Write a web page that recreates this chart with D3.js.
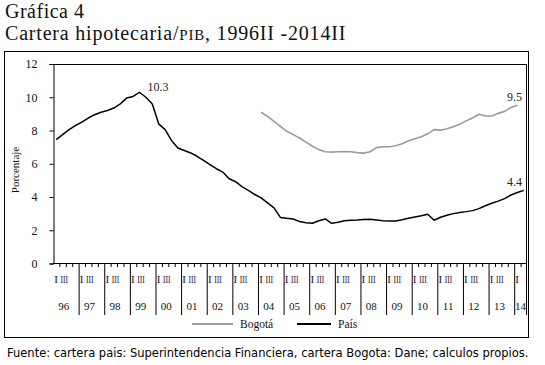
<!DOCTYPE html>
<html>
<head>
<meta charset="utf-8">
<script src="https://cdn.jsdelivr.net/npm/d3@7/dist/d3.min.js"></script>
<style>
  body { margin: 0; background: #fff; }
  svg { display: block; }
</style>
</head>
<body>
<svg id="chart" width="545" height="365"></svg>
<script>
// ---- Data ----
const years = ["96","97","98","99","00","01","02","03","04","05","06","07","08","09","10","11","12","13","14"];
const quarters = ["I","II","III","IV"];
// quarterly series, 1996 I .. 2014 II (74 quarters)
const pais = [
  7.45, 7.75, 8.05, 8.30, 8.50, 8.75, 8.95, 9.10,   // 96-97
  9.20, 9.35, 9.60, 9.95, 10.05, 10.30, 10.00, 9.60, // 98-99
  8.40, 8.05, 7.40, 6.95, 6.80, 6.65, 6.45, 6.20,    // 00-01
  5.95, 5.70, 5.50, 5.10, 4.92, 4.62, 4.40, 4.15,    // 02-03
  3.95, 3.65, 3.35, 2.77, 2.72, 2.68, 2.52, 2.45,    // 04-05
  2.42, 2.57, 2.68, 2.42, 2.48, 2.57, 2.60, 2.62,    // 06-07
  2.65, 2.66, 2.62, 2.57, 2.55, 2.55, 2.63, 2.72,    // 08-09
  2.80, 2.87, 2.96, 2.60, 2.78, 2.90, 3.00, 3.07,    // 10-11
  3.12, 3.18, 3.30, 3.47, 3.62, 3.75, 3.90, 4.12,    // 12-13
  4.27, 4.40                                         // 14
];
const bogota = [
  null, null, null, null, null, null, null, null,
  null, null, null, null, null, null, null, null,
  null, null, null, null, null, null, null, null,
  null, null, null, null, null, null, null, null,
  9.10, 8.85, 8.55, 8.25, 7.95, 7.75, 7.55, 7.30,
  7.05, 6.85, 6.72, 6.70, 6.72, 6.74, 6.72, 6.67,
  6.64, 6.72, 6.97, 7.02, 7.02, 7.08, 7.20, 7.38,
  7.50, 7.62, 7.80, 8.05, 8.02, 8.10, 8.22, 8.37,
  8.58, 8.75, 8.98, 8.87, 8.87, 9.03, 9.15, 9.38,
  9.52, null
];
const yTicks = [0, 2, 4, 6, 8, 10, 12];
const seriesNames = ["Bogotá", "País"];
const annotations = [
  { series: "pais", index: 13, text: "10.3" },
  { series: "bogota", index: 72, text: "9.5" },
  { series: "pais", index: 73, text: "4.4" }
];

// quarter keys
const qKeys = [];
years.forEach((y, yi) => {
  quarters.forEach((q, qi) => {
    if (qKeys.length < pais.length) qKeys.push(y + "-" + q);
  });
});

// ---- Layout ----
const svg = d3.select("#chart");
const plot = { left: 53, right: 527, top: 64, bottom: 263.5 };
const serif = "'Liberation Serif', 'Times New Roman', serif";

const x = d3.scaleBand().domain(qKeys).range([plot.left, plot.right]).padding(0);
const y = d3.scaleLinear().domain([0, 12]).range([plot.bottom, plot.top]);
const xc = i => x(qKeys[i]) + x.bandwidth() / 2;

// Frame
svg.append("rect").attr("x", 4.5).attr("y", 51.5).attr("width", 524).attr("height", 286)
  .attr("fill", "none").attr("stroke", "#000").attr("stroke-width", 1);

// Titles
svg.append("text").attr("x", 5).attr("y", 17.5).attr("font-family", serif)
  .attr("font-size", 20).attr("letter-spacing", 0.5).attr("fill", "#111").text("Gráfica 4");
const t2 = svg.append("text").attr("x", 5).attr("y", 40).attr("font-family", serif)
  .attr("font-size", 20).attr("letter-spacing", 0.8).attr("fill", "#111");
t2.append("tspan").text("Cartera hipotecaria/");
t2.append("tspan").attr("font-size", 15).text("PIB");
t2.append("tspan").text(", 1996II -2014II");

// Plot border (top and right)
svg.append("line").attr("x1", plot.left).attr("x2", plot.right).attr("y1", plot.top + 0.5).attr("y2", plot.top + 0.5)
  .attr("stroke", "#000");
svg.append("line").attr("x1", plot.right - 0.5).attr("x2", plot.right - 0.5).attr("y1", plot.top).attr("y2", 315)
  .attr("stroke", "#000");

// Y axis
const yAxis = d3.axisLeft(y).tickValues(yTicks).tickSize(4).tickPadding(12).tickFormat(d3.format("d"));
const gy = svg.append("g").attr("transform", `translate(${plot.left + 0.5},0)`).call(yAxis);
gy.attr("font-family", serif);
gy.select(".domain").attr("stroke", "#000");
gy.selectAll("line").attr("stroke", "#000");
gy.selectAll("text").attr("font-family", serif).attr("font-size", 12).attr("fill", "#111");

svg.append("text").attr("transform", `translate(19,170) rotate(-90)`).attr("text-anchor", "middle")
  .attr("font-family", serif).attr("font-size", 11).attr("fill", "#111").text("Porcentaje");

// X axis: minor quarter ticks
const gx = svg.append("g");
gx.append("line").attr("x1", plot.left).attr("x2", plot.right).attr("y1", plot.bottom).attr("y2", plot.bottom)
  .attr("stroke", "#000");
qKeys.forEach((k, i) => {
  if (i > 0) {
    const isYear = i % 4 === 0;
    gx.append("line").attr("x1", x(k) + 0.5).attr("x2", x(k) + 0.5)
      .attr("y1", plot.bottom).attr("y2", isYear ? 315 : plot.bottom + 3.5)
      .attr("stroke", "#000").attr("stroke-width", 1);
  }
});
// year and quarter labels
years.forEach((yr, yi) => {
  const startKey = yr + "-I";
  const x0 = x(startKey);
  const nQ = qKeys.filter(k => k.startsWith(yr + "-")).length;
  const x1 = x0 + nQ * x.bandwidth();
  gx.append("text").attr("x", x0 + 3).attr("y", 283).attr("text-anchor", "middle")
    .attr("font-family", serif).attr("font-size", 11).attr("fill", "#1a1030").text(quarters[0]);
  if (nQ >= 3) {
    gx.append("text").attr("x", x0 + 7.5).attr("y", 283)
      .attr("textLength", 7.5).attr("lengthAdjust", "spacingAndGlyphs")
      .attr("font-family", serif).attr("font-size", 11).attr("fill", "#1a1030").text(quarters[2]);
  }
  gx.append("text").attr("x", (x0 + x1) / 2 - (nQ === 4 ? 2 : 0)).attr("y", 310).attr("text-anchor", "middle")
    .attr("font-family", serif).attr("font-size", 11).attr("fill", "#111").text(yr);
});

// Lines
const line = d3.line().defined(d => d.v !== null).x(d => xc(d.i)).y(d => y(d.v));
const paisPts = pais.map((v, i) => ({ i, v }));
const bogPts = bogota.map((v, i) => ({ i, v }));
svg.append("path").datum(bogPts).attr("d", line).attr("fill", "none")
  .attr("stroke", "#9a9a9a").attr("stroke-width", 1.6).attr("stroke-linejoin", "round");
svg.append("path").datum(paisPts).attr("d", line).attr("fill", "none")
  .attr("stroke", "#000").attr("stroke-width", 1.5).attr("stroke-linejoin", "round");

// Annotations
const seriesMap = { pais, bogota };
annotations.forEach(a => {
  const v = seriesMap[a.series][a.index];
  const px = xc(a.index), py = y(v);
  const t = svg.append("text").attr("font-family", serif).attr("font-size", 12).attr("fill", "#222").text(a.text);
  if (a.index === 13) t.attr("x", px + 8).attr("y", py - 1);
  else t.attr("x", 522).attr("y", py - 4).attr("text-anchor", "end");
});

// Legend
const legend = [
  { name: seriesNames[0], color: "#9a9a9a", x1: 192, x2: 233 },
  { name: seriesNames[1], color: "#000", x1: 297, x2: 331 }
];
legend.forEach(l => {
  svg.append("line").attr("x1", l.x1).attr("x2", l.x2).attr("y1", 324).attr("y2", 324)
    .attr("stroke", l.color).attr("stroke-width", 2);
  svg.append("text").attr("x", l.x2 + 7).attr("y", 328).attr("font-family", serif)
    .attr("font-size", 11.5).attr("fill", "#111").text(l.name);
});

// Footer
svg.append("text").attr("x", 7).attr("y", 357)
  .attr("font-family", "'DejaVu Sans', Verdana, sans-serif").attr("font-size", 11.5).attr("fill", "#000")
  .text("Fuente: cartera pais: Superintendencia Financiera, cartera Bogota: Dane; calculos propios.");
</script>
</body>
</html>
